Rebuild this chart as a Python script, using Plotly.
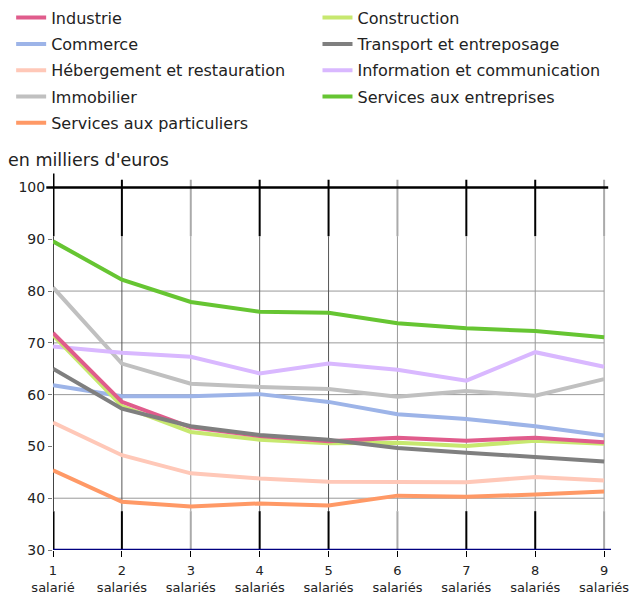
import plotly.graph_objects as go

# ---- data ----
x_vals = [1, 2, 3, 4, 5, 6, 7, 8, 9]
x_labels = ["1<br>salarié", "2<br>salariés", "3<br>salariés", "4<br>salariés", "5<br>salariés",
            "6<br>salariés", "7<br>salariés", "8<br>salariés", "9<br>salariés"]

industrie = [71.9, 58.6, 53.7, 52.0, 51.0, 51.7, 51.1, 51.7, 50.8]
construction = [71.5, 57.8, 52.8, 51.3, 50.6, 50.7, 50.1, 51.1, 50.5]
commerce = [61.8, 59.7, 59.7, 60.1, 58.6, 56.2, 55.3, 53.9, 52.1]
transport = [65.0, 57.3, 53.9, 52.2, 51.3, 49.7, 48.8, 48.0, 47.1]
hebergement = [54.6, 48.3, 44.8, 43.8, 43.2, 43.1, 43.1, 44.1, 43.4]
information = [69.3, 68.1, 67.3, 64.1, 66.0, 64.8, 62.7, 68.2, 65.4]
immobilier = [80.7, 66.0, 62.1, 61.5, 61.1, 59.6, 60.7, 59.8, 63.0]
serv_entreprises = [89.6, 82.2, 77.9, 76.0, 75.8, 73.8, 72.8, 72.3, 71.1]
serv_particuliers = [45.4, 39.3, 38.4, 39.0, 38.6, 40.5, 40.3, 40.7, 41.3]

y_ticks = [30, 40, 50, 60, 70, 80, 90, 100]
grid_y = [40, 60, 70, 80]

# ---- styles ----
FONT = "DejaVu Sans, Verdana, sans-serif"
series = [
    # name, values, color, legend, rank
    ("Immobilier", immobilier, "#C0C0C0", "legend", 4),
    ("Commerce", commerce, "#9DB4E8", "legend", 2),
    ("Information et communication", information, "#D9B8FF", "legend2", 3),
    ("Hébergement et restauration", hebergement, "#FFC8B8", "legend", 3),
    ("Services aux particuliers", serv_particuliers, "#FF9966", "legend", 5),
    ("Construction", construction, "#C7E86F", "legend2", 1),
    ("Industrie", industrie, "#E05C8C", "legend", 1),
    ("Transport et entreposage", transport, "#7F7F7F", "legend2", 2),
    ("Services aux entreprises", serv_entreprises, "#66C532", "legend2", 4),
]

fig = go.Figure()
for name, vals, color, leg, rank in series:
    fig.add_trace(go.Scatter(
        x=x_vals, y=vals, mode="lines", name=name, legendgroup=name,
        line=dict(color=color, width=4), legend=leg, legendrank=rank,
    ))

shapes = []
# horizontal gridlines
for gy in grid_y:
    shapes.append(dict(type="line", xref="x", yref="y", x0=1, x1=9, y0=gy, y1=gy,
                       line=dict(color="#999999", width=1), layer="below"))

dark_x = [1, 2, 4, 5, 7, 8]
mid_colors = {1: "#444444", 2: "#555555", 3: "#999999", 4: "#666666", 5: "#555555",
              6: "#999999", 7: "#999999", 8: "#999999", 9: "#999999"}
for xv in x_vals:
    seg_col = "#000000" if xv in dark_x else "#AAAAAA"
    top = 102.7 if xv == 1 else 101.5
    w = 3 if xv == 1 else 2
    # top segment
    shapes.append(dict(type="line", xref="x", yref="y", x0=xv, x1=xv, y0=90.6, y1=top,
                       line=dict(color=seg_col, width=w), layer="below"))
    # middle
    shapes.append(dict(type="line", xref="x", yref="y", x0=xv, x1=xv, y0=37.5, y1=90.6,
                       line=dict(color=mid_colors[xv], width=2 if xv == 1 else 1), layer="below"))
    # bottom segment
    shapes.append(dict(type="line", xref="x", yref="y", x0=xv, x1=xv, y0=30, y1=37.5,
                       line=dict(color=seg_col, width=w), layer="below"))

# top line at 100
shapes.append(dict(type="line", xref="paper", yref="y", x0=-0.012, x1=0.995, y0=100, y1=100,
                   line=dict(color="#000000", width=2.5), layer="above"))
# bottom axis line at 30
shapes.append(dict(type="line", xref="paper", yref="y", x0=0, x1=1, y0=30, y1=30,
                   line=dict(color="#000080", width=2.5), layer="above"))

fig.update_layout(
    width=630, height=597,
    margin=dict(l=53, r=19, t=173, b=47, autoexpand=False),
    plot_bgcolor="white", paper_bgcolor="white",
    font=dict(family=FONT, size=14, color="#222222"),
    shapes=shapes,
    showlegend=True,
    legend=dict(x=-0.075, y=1.457, xanchor="left", yanchor="top",
                font=dict(family=FONT, size=16, color="#222222"),
                bgcolor="rgba(0,0,0,0)", tracegroupgap=2.5, itemwidth=30),
    legend2=dict(x=0.474, y=1.457, xanchor="left", yanchor="top",
                 font=dict(family=FONT, size=16, color="#222222"),
                 bgcolor="rgba(0,0,0,0)", tracegroupgap=2.5, itemwidth=30),
    annotations=[dict(text="en milliers d'euros", xref="paper", yref="paper",
                      x=-0.084, y=1.0345, xanchor="left", yanchor="middle", showarrow=False,
                      font=dict(family=FONT, size=17.5, color="#222222"))],
)

fig.update_xaxes(range=[1, 9.1], tickvals=x_vals, ticktext=x_labels, showgrid=False,
                 zeroline=False, showline=False, ticks="outside", ticklen=6, automargin=False,
                 ticklabelstandoff=2,
                 tickcolor="#000000", tickfont=dict(size=13, family=FONT))
fig.update_yaxes(range=[30, 102.8], tickvals=y_ticks, showgrid=False, zeroline=False,
                 showline=False, ticks="outside", ticklen=4, tickcolor="#777777", automargin=False,
                 tickfont=dict(size=14, family=FONT))

fig.write_html("out.html")
